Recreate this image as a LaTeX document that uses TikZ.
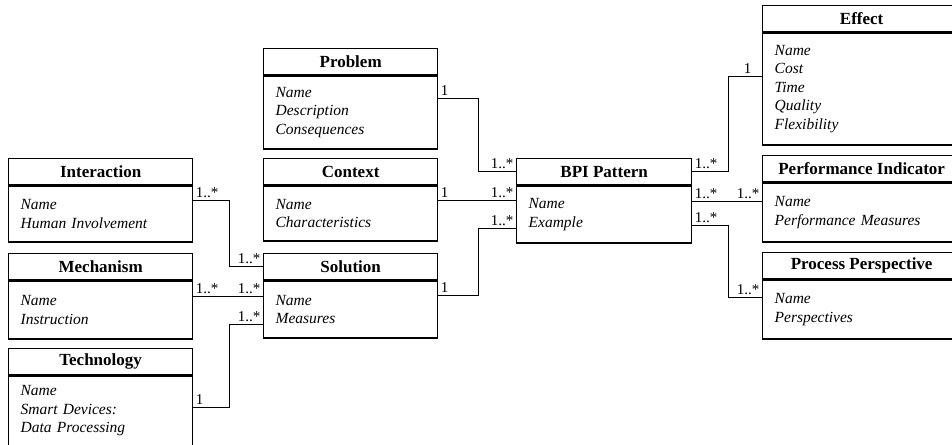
\documentclass[tikz,border=0pt]{standalone}
\usepackage{fontspec}
\setmainfont{Liberation Serif}
\begin{document}
\begin{tikzpicture}[x=1pt,y=-1pt]
        \tikzset{head/.style = {shape=rectangle,draw,line width=1.3pt,anchor=north west,minimum height=26pt,inner sep=0pt,font=\fontsize{17}{20}\selectfont\bfseries}};
        \tikzset{attrs/.style = {shape=rectangle,draw,line width=1.3pt,anchor=north west,align=left,inner xsep=12pt,inner ysep=0pt,font=\fontsize{15.5}{18.5}\selectfont\itshape}};
        \tikzset{edge/.style = {line width=1.2pt}};
        \tikzset{mult/.style = {inner sep=2pt,font=\fontsize{15}{18}\selectfont}};
        \clip (0,0) rectangle (952,444);
        \node[head,minimum width=184pt] (inter) at (8,158) {Interaction};
        \node[attrs,text width=160pt,minimum height=56pt] (inter-b) at (inter.south west) {Name\\Human Involvement};
        \node[head,minimum width=184pt] (mech) at (8,253) {Mechanism};
        \node[attrs,text width=160pt,minimum height=58pt] (mech-b) at (mech.south west) {Name\\Instruction};
        \node[head,minimum width=184pt] (tech) at (8,348) {Technology};
        \node[attrs,text width=160pt,minimum height=70pt] (tech-b) at (tech.south west) {Name\\Smart Devices:\\Data Processing};
        \node[head,minimum width=174pt] (prob) at (263,48) {Problem};
        \node[attrs,text width=150pt,minimum height=73pt] (prob-b) at (prob.south west) {Name\\Description\\Consequences};
        \node[head,minimum width=174pt] (ctx) at (263,158) {Context};
        \node[attrs,text width=150pt,minimum height=55pt] (ctx-b) at (ctx.south west) {Name\\Characteristics};
        \node[head,minimum width=174pt] (sol) at (263,253) {Solution};
        \node[attrs,text width=150pt,minimum height=57pt] (sol-b) at (sol.south west) {Name\\Measures};
        \node[head,minimum width=175pt] (bpi) at (516,158) {BPI Pattern};
        \node[attrs,text width=151pt,minimum height=57pt] (bpi-b) at (bpi.south west) {Name\\Example};
        \node[head,minimum width=198pt] (eff) at (762,5) {Effect};
        \node[attrs,text width=174pt,minimum height=112pt] (eff-b) at (eff.south west) {Name\\Cost\\Time\\Quality\\Flexibility};
        \node[head,minimum width=198pt] (pi) at (762,155) {Performance Indicator};
        \node[attrs,text width=174pt,minimum height=59pt] (pi-b) at (pi.south west) {Name\\Performance Measures};
        \node[head,minimum width=198pt] (pp) at (762,252) {Process Perspective};
        \node[attrs,text width=174pt,minimum height=59pt] (pp-b) at (pp.south west) {Name\\Perspectives};
        \draw[edge] ([yshift=-15pt]inter-b.north east) node[mult,above right] {1..*} -- ++(36,0) |- (sol.west) node[mult,above left] {1..*};
        \draw[edge] ([yshift=-16pt]mech-b.north east) node[mult,above right] {1..*} -- ([yshift=-16pt]sol-b.north west) node[mult,above left] {1..*};
        \draw[edge] ([yshift=-32pt]tech-b.north east) node[mult,above right] {1} -- ++(36,0) |- ([yshift=-44pt]sol-b.north west) node[mult,above left] {1..*};
        \draw[edge] ([yshift=-23pt]prob-b.north east) node[mult,above right] {1} -- ++(40,0) |- (bpi.west) node[mult,above left] {1..*};
        \draw[edge] ([yshift=-15pt]ctx-b.north east) node[mult,above right] {1} -- ([yshift=-15pt]bpi-b.north west) node[mult,above left] {1..*};
        \draw[edge] ([yshift=-15pt]sol-b.north east) node[mult,above right] {1} -- ++(40,0) |- ([yshift=-43pt]bpi-b.north west) node[mult,above left] {1..*};
        \draw[edge] (bpi.east) node[mult,above right] {1..*} -- ++(36,0) |- ([yshift=-44pt]eff-b.north west) node[mult,above left,xshift=-8pt] {1};
        \draw[edge] ([yshift=-16pt]bpi-b.north east) node[mult,above right] {1..*} -- ([yshift=-19pt]pi-b.north west) node[mult,above left] {1..*};
        \draw[edge] ([yshift=-40pt]bpi-b.north east) node[mult,above right] {1..*} -- ++(36,0) |- ([yshift=-18pt]pp-b.north west) node[mult,above left] {1..*};
\end{tikzpicture}
\end{document}
